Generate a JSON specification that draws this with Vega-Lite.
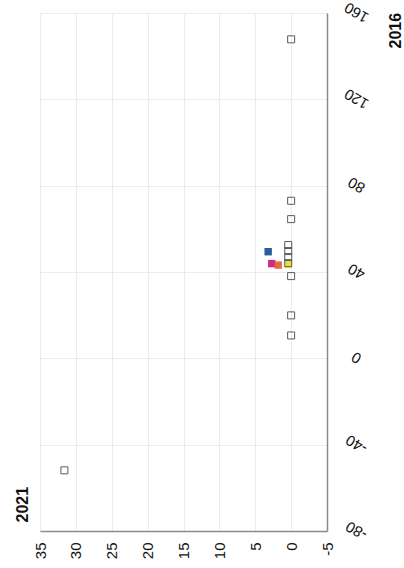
{
  "$schema": "https://vega.github.io/schema/vega-lite/v6.json",
  "width": 287,
  "height": 518,
  "autosize": {"type": "none"},
  "padding": {"left": 40, "top": 13, "right": 77, "bottom": 37},
  "background": "white",
  "config": {
    "view": {"stroke": null},
    "axis": {"labelFont": "Liberation Sans", "titleFont": "Liberation Sans"}
  },
  "data": {
    "values": [
      {"v2016": 147.8, "v2021": 0, "group": "none"},
      {"v2016": 73.0, "v2021": 0, "group": "none"},
      {"v2016": 64.5, "v2021": 0, "group": "none"},
      {"v2016": 52.5, "v2021": 0.4, "group": "none"},
      {"v2016": 49.7, "v2021": 0.4, "group": "none"},
      {"v2016": 46.9, "v2021": 0.4, "group": "none"},
      {"v2016": 44.1, "v2021": 0.4, "group": "none"},
      {"v2016": 38.1, "v2021": 0, "group": "none"},
      {"v2016": 19.9, "v2021": 0, "group": "none"},
      {"v2016": 10.6, "v2021": 0, "group": "none"},
      {"v2016": -51.9, "v2021": 31.6, "group": "none"},
      {"v2016": 49.4, "v2021": 3.2, "group": "g1"},
      {"v2016": 43.9, "v2021": 2.7, "group": "g2"},
      {"v2016": 43.2, "v2021": 1.8, "group": "g3"},
      {"v2016": 43.5, "v2021": 0.4, "group": "g4"}
    ]
  },
  "encoding": {
    "x": {
      "field": "v2021",
      "type": "quantitative",
      "scale": {"domain": [-5, 35], "reverse": true, "nice": false, "zero": false},
      "axis": {
        "orient": "bottom",
        "values": [-5, 0, 5, 10, 15, 20, 25, 30, 35],
        "labelExpr": "'' + datum.value",
        "labelAngle": -90,
        "labelAlign": "right",
        "labelBaseline": "middle",
        "labelFontSize": 15,
        "labelColor": "#111",
        "labelPadding": 11,
        "labelFlush": false,
        "labelOverlap": false,
        "ticks": false,
        "tickSize": 0,
        "grid": true,
        "gridColor": "#ececec",
        "gridWidth": 1,
        "domainColor": "#8a8a8a",
        "domainWidth": 1.5,
        "title": "2021",
        "titleFontWeight": "bold",
        "titleFontSize": 16,
        "titleColor": "#111",
        "titleAngle": -90,
        "titleAlign": "left",
        "titleBaseline": "middle",
        "titleX": -18,
        "titleY": -9
      }
    },
    "y": {
      "field": "v2016",
      "type": "quantitative",
      "scale": {"domain": [-80, 160], "nice": false, "zero": false},
      "axis": {
        "orient": "right",
        "values": [-80, -40, 0, 40, 80, 120, 160],
        "labelExpr": "'' + datum.value",
        "labelAngle": 210,
        "labelAlign": "center",
        "labelBaseline": "middle",
        "labelFontSize": 15,
        "labelColor": "#111",
        "labelPadding": 29,
        "labelOffset": -1,
        "labelFlush": false,
        "labelOverlap": false,
        "ticks": false,
        "tickSize": 0,
        "grid": true,
        "gridColor": "#ececec",
        "gridWidth": 1,
        "domainColor": "#8a8a8a",
        "domainWidth": 1.5,
        "title": "2016",
        "titleFontWeight": "bold",
        "titleFontSize": 16,
        "titleColor": "#111",
        "titleAngle": -90,
        "titleAlign": "left",
        "titleBaseline": "middle",
        "titleX": 68,
        "titleY": 35
      }
    }
  },
  "layer": [
    {
      "transform": [{"filter": "datum.group !== 'none'"}],
      "mark": {"type": "point", "shape": "square", "filled": true, "size": 55, "opacity": 0.95},
      "encoding": {
        "color": {
          "field": "group",
          "type": "nominal",
          "scale": {"domain": ["g1", "g2", "g3", "g4"], "range": ["#1c5496", "#d21f7e", "#e0643c", "#e9de3a"]},
          "legend": null
        }
      }
    },
    {
      "transform": [{"filter": "datum.group === 'none'"}],
      "mark": {"type": "point", "shape": "square", "filled": false, "size": 49, "stroke": "#5a5a5a", "strokeWidth": 1, "opacity": 1}
    }
  ]
}
